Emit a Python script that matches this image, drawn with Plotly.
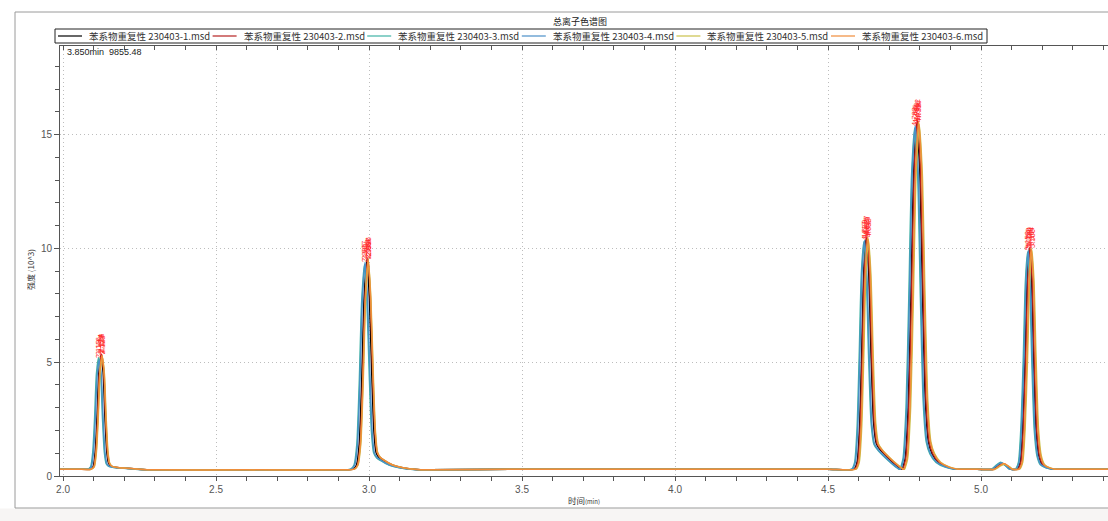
import plotly.graph_objects as go

# ---------------- data ----------------
series_names = ["苯系物重复性 230403-1.msd", "苯系物重复性 230403-2.msd",
                "苯系物重复性 230403-3.msd", "苯系物重复性 230403-4.msd",
                "苯系物重复性 230403-5.msd", "苯系物重复性 230403-6.msd"]
series_colors = ["#000000", "#b52020", "#3fb3a4", "#4a8fc8", "#c9c24a", "#f08c3a"]

# apex retention times (min) per series: peak1, peak2, peak3, peak4, bump, peak5
apex_rt = [
    [2.124, 2.993, 4.625, 4.790, 5.070, 5.158],
    [2.126, 2.996, 4.627, 4.792, 5.072, 5.160],
    [2.116, 2.985, 4.617, 4.783, 5.064, 5.152],
    [2.118, 2.987, 4.619, 4.785, 5.066, 5.154],
    [2.128, 2.998, 4.632, 4.798, 5.076, 5.166],
    [2.127, 2.997, 4.630, 4.796, 5.074, 5.164],
]
# apex intensities (x10^3)
apex_h = [
    [5.30, 9.50, 10.45, 15.50, 0.55, 10.00],
    [5.35, 9.60, 10.55, 15.65, 0.55, 10.05],
    [5.20, 9.30, 10.30, 15.30, 0.60, 9.85],
    [5.10, 9.40, 10.35, 15.40, 0.58, 9.90],
    [5.25, 9.45, 10.40, 15.45, 0.52, 9.95],
    [5.30, 9.55, 10.50, 15.60, 0.55, 10.02],
]
labelled_peaks = [0, 1, 2, 3, 5]

# peak profiles: offset from apex (min), fraction of apex height above baseline
profile_dt = [
    [-0.036, -0.026, -0.019, -0.013, -0.007, 0, 0.007, 0.013, 0.019, 0.025, 0.033, 0.05, 0.08, 0.12],
    [-0.045, -0.034, -0.025, -0.017, -0.009, 0, 0.008, 0.016, 0.023, 0.03, 0.04, 0.055, 0.08, 0.11, 0.15],
    [-0.04, -0.03, -0.022, -0.015, -0.008, 0, 0.008, 0.016, 0.024, 0.033, 0.045, 0.07, 0.095, 0.115],
    [-0.048, -0.038, -0.028, -0.019, -0.01, 0, 0.01, 0.019, 0.028, 0.038, 0.05, 0.07, 0.1, 0.13],
    [-0.03, -0.015, 0, 0.015, 0.028],
    [-0.04, -0.03, -0.022, -0.014, -0.007, 0, 0.007, 0.014, 0.022, 0.031, 0.042, 0.06, 0.08],
]
profile_frac = [
    [0, 0.02, 0.15, 0.45, 0.85, 1, 0.85, 0.45, 0.15, 0.05, 0.025, 0.015, 0.008, 0],
    [0, 0.02, 0.12, 0.42, 0.82, 1, 0.82, 0.45, 0.18, 0.08, 0.055, 0.04, 0.02, 0.008, 0],
    [0, 0.03, 0.18, 0.5, 0.86, 1, 0.85, 0.48, 0.2, 0.11, 0.085, 0.05, 0.02, 0],
    [0, 0.03, 0.18, 0.5, 0.86, 1, 0.86, 0.5, 0.2, 0.08, 0.045, 0.02, 0.006, 0],
    [0, 0.55, 1, 0.55, 0],
    [0, 0.03, 0.18, 0.5, 0.86, 1, 0.86, 0.5, 0.18, 0.06, 0.02, 0.006, 0],
]
baseline_level = 0.3
baseline_t = [1.99, 2.05, 2.3, 2.6, 2.9, 3.2, 3.5, 3.8, 4.0, 4.3, 4.5, 4.97, 5.3, 5.42]
baseline_y = [0.30, 0.30, 0.27, 0.27, 0.27, 0.27, 0.30, 0.30, 0.30, 0.30, 0.30, 0.30, 0.30, 0.30]

x_ticks = [2.0, 2.5, 3.0, 3.5, 4.0, 4.5, 5.0]
y_ticks = [0, 5, 10, 15]

# ---------------- figure ----------------
fig = go.Figure()


def build_series(i):
    pts = []
    windows = []
    for k in range(len(apex_rt[i])):
        t0 = apex_rt[i][k]
        h = apex_h[i][k]
        dts = profile_dt[k]
        windows.append((t0 + dts[0], t0 + dts[-1]))
        for dt, fr in zip(dts, profile_frac[k]):
            pts.append((t0 + dt, baseline_level + fr * (h - baseline_level)))
    for t, y in zip(baseline_t, baseline_y):
        if not any(a - 0.005 <= t <= b + 0.005 for a, b in windows):
            pts.append((t, y))
    pts.sort()
    return [p[0] for p in pts], [p[1] for p in pts]


for i in range(6):
    xs, ys = build_series(i)
    fig.add_trace(go.Scatter(
        x=xs, y=ys, mode="lines", name=series_names[i], showlegend=False,
        line=dict(color=series_colors[i], width=1.5, shape="spline", smoothing=0.6),
    ))

# invisible trace on the top axis so it is drawn
fig.add_trace(go.Scatter(x=[2.0], y=[0], xaxis="x2", mode="markers",
                         marker=dict(opacity=0), showlegend=False, hoverinfo="skip"))

# plot area in pixels: left 60, top 46, width 1048, height 430
def px_x(p):
    return (p - 60) / 1048.0


def px_y(p):
    return (476 - p) / 430.0


annotations = []
for i in range(6):
    for k in labelled_peaks:
        annotations.append(dict(
            x=apex_rt[i][k], y=apex_h[i][k], xref="x", yref="y",
            text=f"{apex_rt[i][k]:.3f}", showarrow=False, textangle=-90,
            xanchor="center", yanchor="bottom",
            font=dict(size=7.5, color="#ff2a2a", family="Liberation Sans"),
        ))

annotations += [
    dict(x=px_x(580), y=px_y(22), xref="paper", yref="paper", text="总离子色谱图",
         xanchor="center", yanchor="middle",
         showarrow=False, font=dict(size=9, color="#222", family="Noto Sans CJK SC")),
    dict(x=px_x(65), y=px_y(52), xref="paper", yref="paper", text="3.850min  9855.48",
         xanchor="left", yanchor="middle", showarrow=False,
         font=dict(size=9, color="#222", family="Liberation Sans")),
    dict(x=px_x(30), y=px_y(270), xref="paper", yref="paper", text="强度 (10^3)",
         xanchor="center", yanchor="middle",
         textangle=-90, showarrow=False,
         font=dict(size=8, color="#333", family="Noto Sans CJK SC")),
    dict(x=px_x(584), y=px_y(500), xref="paper", yref="paper",
         text="时间<span style='font-size:6px'>(min)</span>",
         xanchor="center", yanchor="middle",
         showarrow=False, font=dict(size=8.5, color="#333", family="Noto Sans CJK SC")),
]

frame = dict(color="#9a9a9a", width=1)
shapes = [
    dict(type="rect", xref="paper", yref="paper", x0=px_x(0), x1=px_x(1108), y0=px_y(508.5), y1=px_y(521),
         line=dict(width=0), fillcolor="#f7f5f4", layer="below"),
    dict(type="line", xref="paper", yref="paper", x0=px_x(15), x1=px_x(1108), y0=px_y(12), y1=px_y(12),
         line=frame, layer="below"),
    dict(type="line", xref="paper", yref="paper", x0=px_x(15), x1=px_x(1108), y0=px_y(508), y1=px_y(508),
         line=frame, layer="below"),
    dict(type="line", xref="paper", yref="paper", x0=px_x(15), x1=px_x(15), y0=px_y(12), y1=px_y(508),
         line=frame, layer="below"),
    # legend box
    dict(type="rect", xref="paper", yref="paper", x0=px_x(55), x1=px_x(987), y0=px_y(43), y1=px_y(29),
         line=dict(color="#222", width=1), fillcolor="white", layer="above"),
]

# manual legend entries
for i in range(6):
    x0 = 58 + 154.6 * i
    shapes.append(dict(type="line", xref="paper", yref="paper",
                       x0=px_x(x0), x1=px_x(x0 + 24), y0=px_y(36), y1=px_y(36),
                       line=dict(color=series_colors[i], width=1.2), layer="above"))
    annotations.append(dict(x=px_x(x0 + 29), y=px_y(36), xref="paper", yref="paper",
                            text=series_names[i], xanchor="left", yanchor="middle",
                            showarrow=False,
                            font=dict(size=9.5, color="#333", family="Noto Sans CJK SC")))

fig.update_layout(
    width=1108, height=521,
    margin=dict(l=60, r=0, t=46, b=45),
    paper_bgcolor="white", plot_bgcolor="white",
    showlegend=False,
    annotations=annotations, shapes=shapes,
    xaxis=dict(range=[1.990, 5.415], tickvals=x_ticks, ticktext=[f"{v:.1f}" for v in x_ticks],
               ticks="outside", ticklen=4, tickcolor="#555", showline=True, linecolor="#555",
               showgrid=True, gridcolor="#bdbdbd", griddash="1px,3px", gridwidth=1,
               zeroline=False,
               minor=dict(dtick=0.1, tick0=2.0, ticks="outside", ticklen=4, tickcolor="#555",
                          showgrid=False),
               tickfont=dict(size=10, color="#555", family="Liberation Sans")),
    xaxis2=dict(range=[1.990, 5.415], overlaying="x", side="top", showticklabels=False,
                tickvals=x_ticks, ticks="inside", ticklen=4, tickcolor="#555",
                showline=True, linecolor="#555", showgrid=False, zeroline=False,
                minor=dict(dtick=0.1, tick0=2.0, ticks="inside", ticklen=4, tickcolor="#555")),
    yaxis=dict(range=[0, 18.9], tickvals=y_ticks, ticks="outside", ticklen=5, tickcolor="#555",
               showline=True, linecolor="#555", showgrid=True, gridcolor="#bdbdbd",
               griddash="1px,3px", zeroline=False,
               minor=dict(dtick=1, ticks="outside", ticklen=4, tickcolor="#555", showgrid=False),
               tickfont=dict(size=10, color="#555", family="Liberation Sans")),
    hovermode=False,
)

fig.write_html("out.html")
